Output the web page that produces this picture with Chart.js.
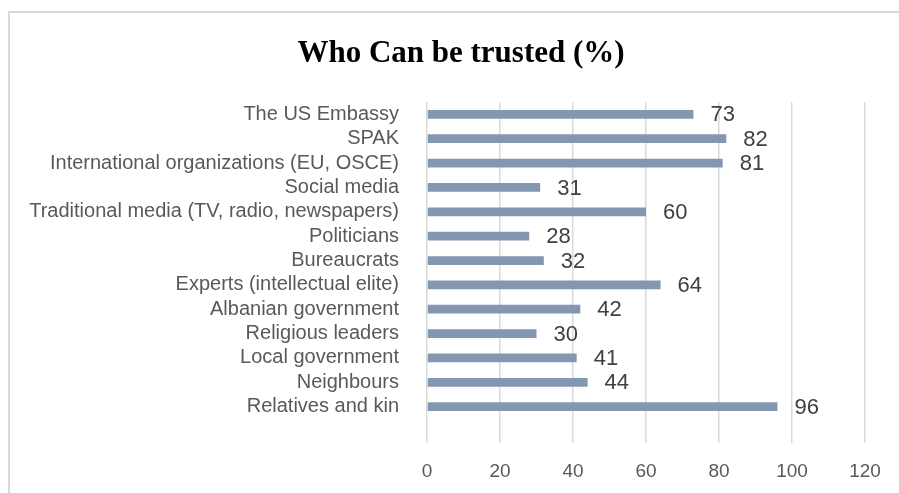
<!DOCTYPE html>
<html>
<head>
<meta charset="utf-8">
<script src="https://cdn.jsdelivr.net/npm/chart.js@4.4.1/dist/chart.umd.min.js"></script>
<style>
  html, body { margin: 0; padding: 0; background: #fff; overflow: hidden; }
  #frame {
    position: absolute; left: 8px; top: 11px;
    width: 902px; height: 520px;
    border: 2px solid #d9d9d9;
  }
  #wrap { position: absolute; left: 0; top: 0; width: 902px; height: 500px; }
</style>
</head>
<body>
<div id="frame"><div id="wrap"><canvas id="chart"></canvas></div></div>
<script>
const categories = ['The US Embassy', 'SPAK', 'International organizations (EU, OSCE)', 'Social media',
    'Traditional media (TV, radio, newspapers)', 'Politicians', 'Bureaucrats', 'Experts (intellectual elite)',
    'Albanian government', 'Religious leaders', 'Local government', 'Neighbours', 'Relatives and kin'];
const trusted = [73, 82, 81, 31, 60, 28, 32, 64, 42, 30, 41, 44, 96];
const xTicks = [0, 20, 40, 60, 80, 100, 120];

// Excel leaves one empty row under the last bar
const labels = [...categories, ''];
const values = [...trusted, null];

const valueLabels = {
    id: 'valueLabels',
    afterDatasetsDraw(chart) {
        const ctx = chart.ctx;
        const meta = chart.getDatasetMeta(0);
        ctx.save();
        ctx.font = '22px "Liberation Sans", Arial, sans-serif';
        ctx.fillStyle = '#404040';
        ctx.textAlign = 'left';
        ctx.textBaseline = 'middle';
        meta.data.forEach((bar, i) => {
            if (values[i] == null) return;
            ctx.fillText(String(values[i]), bar.x + 17, bar.y + 1);
        });
        ctx.restore();
    }
};

const ctx = document.querySelector('#chart').getContext('2d');

const myChart = new Chart(ctx, {
    type: 'bar',
    data: {
        labels: labels,
        datasets: [{
            data: values,
            backgroundColor: '#8497b0',
            categoryPercentage: 1,
            barPercentage: 0.36
        }]
    },
    options: {
        indexAxis: 'y',
        responsive: true,
        maintainAspectRatio: false,
        animation: false,
        layout: { padding: { left: 0, right: 0, top: 0, bottom: 13 } },
        plugins: {
            legend: { display: false },
            tooltip: { enabled: false },
            title: {
                display: true,
                text: 'Who Can be trusted (%)',
                color: '#000',
                font: { family: '"Liberation Serif", "Times New Roman", serif', size: 31, weight: 'bold' },
                padding: { top: 22, bottom: 30 }
            }
        },
        scales: {
            x: {
                min: 0,
                max: 120,
                afterBuildTicks: (s) => { s.ticks = xTicks.map(v => ({ value: v })); },
                grid: { color: '#d9d9d9', lineWidth: 1.5, drawTicks: false },
                border: { display: false },
                ticks: {
                    padding: 17,
                    color: '#595959',
                    font: { family: '"Liberation Sans", Arial, sans-serif', size: 19 }
                }
            },
            y: {
                afterFit: (s) => { s.width = 417; },
                grid: { display: false },
                border: { display: false },
                ticks: {
                    padding: 20,
                    autoSkip: false,
                    color: '#595959',
                    font: { family: '"Liberation Sans", Arial, sans-serif', size: 20 }
                }
            },
            // empty right-hand box so the plot ends at 120 while the title stays centred
            yRight: {
                type: 'linear',
                axis: 'y',
                position: 'right',
                afterFit: (s) => { s.width = 47; },
                grid: { display: false },
                border: { display: false },
                ticks: { display: false }
            }
        }
    },
    plugins: [valueLabels]
});
</script>
</body>
</html>
